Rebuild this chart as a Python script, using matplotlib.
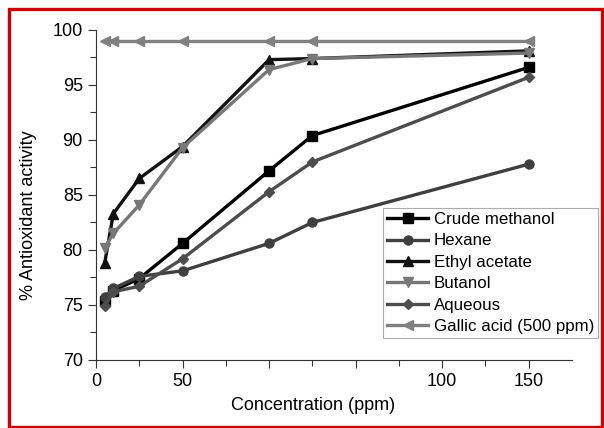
import numpy as np
import matplotlib
matplotlib.use("Agg")
import matplotlib.pyplot as plt
from matplotlib.patches import Rectangle

plt.rcParams['font.family'] = ['Liberation Sans', 'DejaVu Sans']

# concentrations (ppm)
conc = [5, 10, 25, 50, 100, 125, 250]

# % antioxidant activity
crude_methanol = [75.4, 76.3, 77.4, 80.6, 87.2, 90.4, 96.6]
hexane = [75.7, 76.5, 77.6, 78.1, 80.6, 82.5, 87.8]
ethyl_acetate = [78.8, 83.3, 86.5, 89.4, 97.3, 97.4, 98.1]
butanol = [80.2, 81.5, 84.1, 89.3, 96.4, 97.4, 97.9]
aqueous = [74.9, 76.2, 76.7, 79.2, 85.3, 88.0, 95.7]
gallic_acid = [99.0, 99.0, 99.0, 99.0, 99.0, 99.0, 99.0]

x_ticks = [0, 50, 100, 150, 200, 250]
x_tick_labels = ['0', '50', '', '', '100', '150']
y_ticks = [70, 75, 80, 85, 90, 95, 100]

fig = plt.figure(figsize=(6.04, 4.28), dpi=100)
ax = fig.add_axes([0.159, 0.159, 0.788, 0.771])

series = [
    ('Crude methanol', crude_methanol, '#000000', 's'),
    ('Hexane', hexane, '#3f3f3f', 'o'),
    ('Ethyl acetate', ethyl_acetate, '#111111', '^'),
    ('Butanol', butanol, '#777777', 'v'),
    ('Aqueous', aqueous, '#4d4d4d', 'D'),
    ('Gallic acid (500 ppm)', gallic_acid, '#808080', '<'),
]
for name, vals, col, mk in series:
    ax.plot(conc, vals, color=col, marker=mk, lw=2.4, ms=6.5 if mk != 'D' else 5.5,
            label=name, clip_on=False)

ax.set_xlim(0, 275)
ax.set_ylim(70, 100)
ax.set_xticks(x_ticks)
ax.set_xticklabels(x_tick_labels)
ax.set_xticks(np.arange(25, 275, 50), minor=True)
ax.set_yticks(y_ticks)
ax.set_yticks(np.arange(72.5, 100, 5), minor=True)
ax.tick_params(direction='out', labelsize=13, length=6, width=0.8, color='#333333')
ax.tick_params(which='minor', direction='out', length=4, width=0.8, color='#333333')
ax.spines['top'].set_visible(False)
ax.spines['right'].set_visible(False)
ax.spines['left'].set_color('#333333')
ax.spines['bottom'].set_color('#333333')

ax.set_xlabel('Concentration (ppm)', fontsize=13)
ax.set_ylabel('% Antioxidant activity', fontsize=13)
ax.xaxis.set_label_coords(0.456, -0.112)
ax.yaxis.set_label_coords(-0.124, 0.439)

leg = ax.legend(loc='upper left', bbox_to_anchor=(0.603, 0.461), fontsize=12.2,
                frameon=True, fancybox=False, edgecolor='#999999',
                handlelength=2.4, handletextpad=0.35, borderpad=0.25,
                labelspacing=0.38, borderaxespad=0)
leg.get_frame().set_linewidth(0.8)

# red frame round the figure
fig.patches.append(Rectangle((8.5 / 604, 1.5 / 428), 593 / 604, 418 / 428,
                             transform=fig.transFigure, fill=False,
                             edgecolor='#cc0000', linewidth=2.4))

fig.savefig('out.png', dpi=100)
